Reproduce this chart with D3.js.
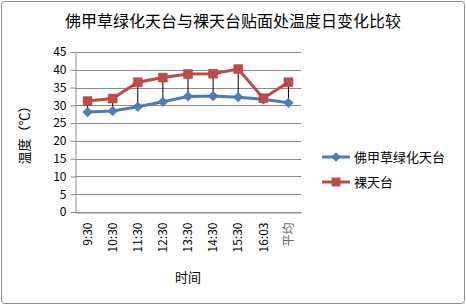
<!DOCTYPE html>
<html>
<head>
<meta charset="utf-8">
<script src="https://cdn.jsdelivr.net/npm/d3@7"></script>
<style>
body { margin: 0; background: #fff; }
text { font-family: "Noto Sans CJK SC", "DejaVu Sans", sans-serif; }
</style>
</head>
<body>
<script>
// categories and the two series
var timeArray = ["9:30","10:30","11:30","12:30","13:30","14:30","15:30","16:03","平均"];
var grassArray = [28.1, 28.4, 29.6, 31.0, 32.5, 32.6, 32.3, 31.7, 30.7];
var bareArray = [31.2, 31.9, 36.5, 37.8, 38.8, 38.9, 40.2, 32.0, 36.5];
var seriesNames = ["佛甲草绿化天台", "裸天台"];
var yTicks = [0,5,10,15,20,25,30,35,40,45];

var width = 466, height = 305;
var margin = {left: 75, right: 165, top: 52, bottom: 93};

var svg = d3.select("body").append("svg").attr("width", width).attr("height", height);

// outer frame
svg.append("rect").attr("x", 1.5).attr("y", 1.5).attr("width", width - 3).attr("height", height - 3)
  .attr("rx", 3).attr("fill", "#fff").attr("stroke", "#8c8c8c").attr("stroke-width", 1);

var x = d3.scaleBand().domain(timeArray).range([margin.left, width - margin.right]);
var y = d3.scaleLinear().domain([0, 45]).range([height - margin.bottom, margin.top]);

// grid
svg.append("g").selectAll("line").data(yTicks).join("line")
  .attr("x1", margin.left).attr("x2", width - margin.right)
  .attr("y1", function(d){ return Math.round(y(d)) + 0.5; })
  .attr("y2", function(d){ return Math.round(y(d)) + 0.5; })
  .attr("stroke", "#8c8c8c").attr("stroke-width", 1);

var yAxis = d3.axisLeft(y).tickValues(yTicks).tickSize(5).tickPadding(4);
var gy = svg.append("g").attr("transform", "translate(" + (margin.left + 0.5) + ",0)").call(yAxis);
gy.selectAll("path, line").attr("stroke", "#8c8c8c");
gy.selectAll("text").attr("font-size", 12).attr("fill", "#000").attr("font-family", "DejaVu Sans, sans-serif");

var xAxis = d3.axisBottom(x).tickSize(0).tickPadding(0);
var gx = svg.append("g").attr("transform", "translate(0," + (height - margin.bottom + 0.5) + ")").call(xAxis);
gx.select("path").attr("stroke", "#8c8c8c");
gx.selectAll("text")
  .attr("font-size", 12).attr("fill", function(d){ return d === "平均" ? "#666" : "#000"; })
  .attr("font-family", function(d){ return d === "平均" ? "Noto Sans CJK SC, sans-serif" : "DejaVu Sans, sans-serif"; })
  .attr("text-anchor", "end").attr("dy", "0.35em")
  .attr("transform", "translate(0,10) rotate(-90)")
  .attr("x", 0).attr("y", 0);

var cx = function(d, i){ return x(timeArray[i]) + x.bandwidth() / 2; };

// high-low lines
svg.append("g").selectAll("line").data(timeArray).join("line")
  .attr("x1", cx).attr("x2", cx)
  .attr("y1", function(d, i){ return y(grassArray[i]); })
  .attr("y2", function(d, i){ return y(bareArray[i]); })
  .attr("stroke", "#000").attr("stroke-width", 1);

var line = d3.line().x(function(d, i){ return cx(d, i); }).y(function(d){ return y(d); });

svg.append("path").datum(grassArray).attr("d", line)
  .attr("fill", "none").attr("stroke", "#4a7ebb").attr("stroke-width", 3);
svg.append("path").datum(bareArray).attr("d", line)
  .attr("fill", "none").attr("stroke", "#be4b48").attr("stroke-width", 3);

var diamond = d3.symbol().type(d3.symbolDiamond2).size(60);
var square = d3.symbol().type(d3.symbolSquare).size(80);

svg.append("g").selectAll("path").data(grassArray).join("path")
  .attr("d", diamond)
  .attr("transform", function(d, i){ return "translate(" + cx(d, i) + "," + y(d) + ")"; })
  .attr("fill", "#4a7ebb").attr("stroke", "#3e6ea8").attr("stroke-width", 0.5);
svg.append("g").selectAll("path").data(bareArray).join("path")
  .attr("d", square)
  .attr("transform", function(d, i){ return "translate(" + cx(d, i) + "," + y(d) + ")"; })
  .attr("fill", "#be4b48").attr("stroke", "#a83e3b").attr("stroke-width", 0.5);

// title
svg.append("text").attr("x", 233).attr("y", 27).attr("text-anchor", "middle")
  .attr("font-size", 16).attr("fill", "#000").text("佛甲草绿化天台与裸天台贴面处温度日变化比较");

// axis titles
svg.append("text").attr("transform", "translate(29,132) rotate(-90)").attr("text-anchor", "middle")
  .attr("font-size", 13).attr("fill", "#000").text("温度（℃）");
svg.append("text").attr("x", 188).attr("y", 282).attr("text-anchor", "middle")
  .attr("font-size", 13).attr("fill", "#000").text("时间");

// legend
var colors = ["#4a7ebb", "#be4b48"];
var legend = svg.append("g").selectAll("g").data(seriesNames).join("g")
  .attr("transform", function(d, i){ return "translate(322," + (157 + i * 25) + ")"; });
legend.append("line").attr("x1", 0).attr("x2", 28).attr("y1", 0).attr("y2", 0)
  .attr("stroke", function(d, i){ return colors[i]; }).attr("stroke-width", 3);
legend.append("path")
  .attr("d", function(d, i){ return i === 0 ? diamond() : square(); })
  .attr("transform", "translate(14,0)")
  .attr("fill", function(d, i){ return colors[i]; });
legend.append("text").attr("x", 32).attr("y", 0).attr("dy", "0.35em")
  .attr("font-size", 13).attr("fill", "#000").text(function(d){ return d; });
</script>
</body>
</html>
